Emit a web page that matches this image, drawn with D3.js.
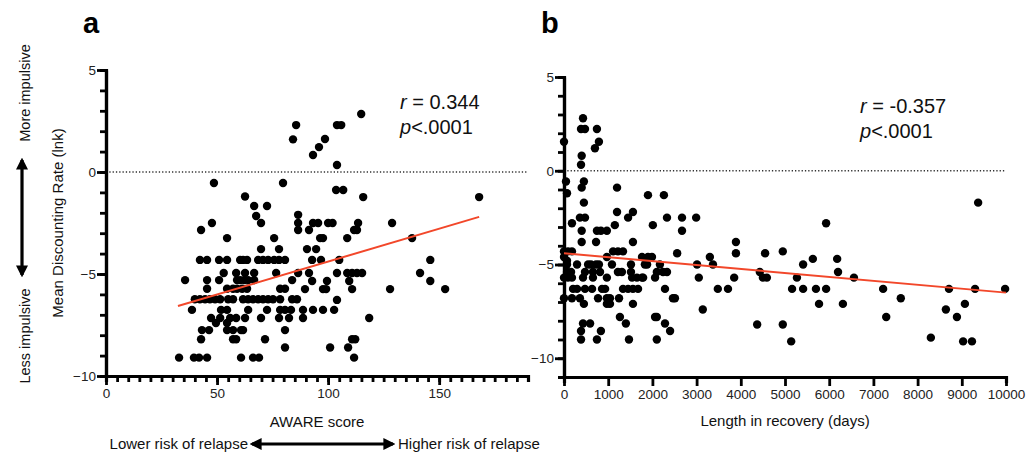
<!DOCTYPE html>
<html>
<head>
<meta charset="utf-8">
<script src="https://cdn.jsdelivr.net/npm/d3@7"></script>
<style>
  body { margin: 0; background: #fff; }
  text { font-family: "Liberation Sans", Arial, Helvetica, sans-serif; }
</style>
</head>
<body>
<div id="chart"></div>
<script>
// panel a: AWARE score vs mean discounting rate
const awareScore = [
  85.6, 84.2, 48.6, 79.7, 62.6, 66.7, 72.5, 67.6, 69.8, 47.7, 42.8, 54.5, 75.7, 69.8, 77.9,
  86.5, 86.5, 86.5,
  42.3, 45.5, 50.9, 54.5, 60.4, 61.7, 63.5, 68.5, 70.7, 73, 75.7, 77.9, 80.6,
  53, 58.6, 62.6, 66.7, 76.6, 86.5,
  35.6, 45.5, 50.9, 59, 60.4, 62.2, 64, 66.7, 83.8,
  45.5, 54.5, 57.2, 59, 61.3, 63.5, 78.4, 80.6,
  40, 42.3, 44.6, 46.8, 49.1, 51.4, 55, 57.2, 61.7, 64, 66.2, 68.5, 70.7, 73, 75.2, 78.4, 83.8, 86,
  38.7, 51.8, 54.5, 64, 72.5, 78.4, 80.6, 83.3,
  47.3, 51.4, 55.9, 58.6, 62.6, 69.8, 77.9, 82.4,
  49.5, 54.5,
  43.2, 46.4, 54.5, 57.2, 60.8, 61.7, 80.6,
  42.8, 57.2, 58.6, 71.6,
  80.6,
  32.9, 39.6, 41.9, 45.5, 60.8, 66.2, 68.9,
  93.2, 95.9, 98.6, 104, 105.9, 114.9, 104, 103.6, 106.8, 115.8, 168,
  93.2, 95.5, 100, 102, 113.5, 113, 111.7, 91.4, 128.8,
  96.4, 97.7, 108.6, 137.8,
  90.5, 94.6,
  92.8, 96.8, 105, 146,
  91.4, 104, 108.6, 110.8, 113, 115.3, 141.4,
  146, 92.8, 99.5, 109.5,
  89.6, 97.7, 99.1, 110.8, 127.9, 152.7,
  104,
  88.7, 93.2, 97.7, 102.7,
  118.5, 88.7,
  100.9, 109, 110.8, 112.2, 111.7
];
const awareRate = [
  2.3, 1.6, -0.54, -0.54, -1.2, -1.67, -1.67, -2.16, -2.5, -2.5, -2.84, -3.24, -3.24, -3.78, -3.78,
  -2.1, -2.5, -2.84,
  -4.31, -4.31, -4.31, -4.31, -4.31, -4.31, -4.31, -4.31, -4.31, -4.31, -4.31, -4.31, -4.31,
  -4.95, -4.95, -4.95, -4.95, -4.95, -4.95,
  -5.3, -5.3, -5.3, -5.3, -5.3, -5.3, -5.3, -5.3, -5.3,
  -5.72, -5.72, -5.72, -5.72, -5.72, -5.72, -5.72, -5.72,
  -6.24, -6.24, -6.24, -6.24, -6.24, -6.24, -6.24, -6.24, -6.24, -6.24, -6.24, -6.24, -6.24, -6.24, -6.24, -6.24, -6.24, -6.24,
  -6.76, -6.76, -6.76, -6.76, -6.76, -6.76, -6.76, -6.76,
  -7.16, -7.16, -7.16, -7.16, -7.16, -7.16, -7.16, -7.16,
  -7.4, -7.4,
  -7.75, -7.75, -7.75, -7.75, -7.75, -7.75, -7.75,
  -8.2, -8.2, -8.2, -8.2,
  -8.6,
  -9.1, -9.1, -9.1, -9.1, -9.1, -9.1, -9.1,
  0.83, 1.22, 1.62, 2.3, 2.3, 2.84, 0.34, -0.88, -0.88, -1.23, -1.23,
  -2.5, -2.5, -2.5, -2.5, -2.5, -2.84, -2.84, -2.84, -2.5,
  -3.24, -3.24, -3.24, -3.24,
  -3.78, -3.78,
  -4.31, -4.31, -4.31, -4.31,
  -4.95, -4.95, -4.95, -4.95, -4.95, -4.95, -4.95,
  -5.34, -5.34, -5.34, -5.34,
  -5.74, -5.74, -5.74, -5.74, -5.74, -5.74,
  -6.27,
  -6.76, -6.76, -6.76, -6.76,
  -7.16, -7.16,
  -8.6, -8.6, -8.2, -8.2, -9.1
];
const awareFitX = [32.4, 168];
const awareFitY = [-6.57, -2.2];

// panel b: length in recovery vs mean discounting rate
const recoveryDays = [
  0, 45, 68, 430, 385, 475, 400, 385, 450, 400, 450, 360, 475, 400, 400, 180, 745, 700, 790,
  745, 835, 725, 970, 1200, 1200, 1150, 1450, 1560, 1560, 1900, 2010, 2260, 2330, 2670, 2670,
  2560, 2990, 3010, 3050, 3300, 3370, 3140, 3480, 3710, 3850, 3890, 3890, 4370, 4430, 4500,
  4590, 4550,
  0, 90, 180, 1110, 1220, 1335, 970, 1765, 1900, 1990, 0, 68,
  68, 295, 545, 610, 725, 790, 1085, 1515, 1830, 1880, 2170,
  68, 160, 475, 655, 815, 1220, 1310, 1515, 2100, 2240, 2330,
  0, 90, 180, 430, 655, 970, 1540, 1650, 1765, 1790, 2060,
  205, 295, 475, 635, 860, 930, 1335, 1450, 1560, 1675, 2285,
  0, 180, 360, 770, 970, 1040, 1245, 2465, 2510,
  450, 970, 1040, 1560,
  1265, 2060, 2100,
  430, 590, 1400, 2285,
  385, 835, 2400,
  385, 745, 1470, 2100,
  9370, 5930, 4950, 5410, 5630, 6180, 6200, 5270, 5160, 5410, 5700, 5930, 5770, 6310, 6560,
  7220, 7290, 7620, 4950, 5140, 8300, 8640, 8710, 8890, 9070, 9030, 9230, 9300, 9980
];
const recoveryRate = [
  1.55, -0.57, -1.2, 2.8, 2.23, 2.23, 0.8, 0.32, -0.57, -0.9, -1.7, -2.5, -2.5, -3.2, -3.8, -2.8, 2.23, 1.2, 1.55,
  -3.2, -3.2, -3.8, -3.2, -0.9, -2.2, -2.9, -2.5, -2.2, -3.8, -1.3, -2.9, -1.3, -2.5, -2.5, -3.2,
  -4.4, -2.5, -5, -5.7, -4.6, -5, -7.4, -6.3, -6.3, -5.7, -3.8, -4.4, -8.2, -5.4, -5.7,
  -5.7, -4.4,
  -4.3, -4.3, -4.3, -4.3, -4.3, -4.3, -4.6, -4.6, -4.6, -4.6, -4.6, -4.8,
  -5, -5, -5, -5, -5, -5, -5, -5, -5, -5, -5,
  -5.4, -5.4, -5.4, -5.4, -5.4, -5.4, -5.4, -5.4, -5.4, -5.4, -5.4,
  -5.7, -5.7, -5.7, -5.7, -5.7, -5.7, -5.7, -5.7, -5.7, -5.7, -5.7,
  -6.3, -6.3, -6.3, -6.3, -6.3, -6.3, -6.3, -6.3, -6.3, -6.3, -6.3,
  -6.8, -6.8, -6.8, -6.8, -6.8, -6.8, -6.8, -6.8, -6.8,
  -7.1, -7.1, -7.1, -7.1,
  -7.8, -7.8, -7.8,
  -8.15, -8.15, -8.15, -8.15,
  -8.55, -8.55, -8.55,
  -9, -9, -9, -9,
  -1.7, -2.8, -4.3, -5, -4.7, -4.7, -5.4, -5.7, -6.3, -6.3, -6.3, -6.3, -7.1, -7.1, -5.7,
  -6.3, -7.8, -6.8, -8.2, -9.1, -8.9, -7.4, -6.3, -7.8, -7.1, -9.1, -9.1, -6.3, -6.3
];
const recoveryFitX = [0, 10000];
const recoveryFitY = [-4.4, -6.5];

const awareTicks = [0, 50, 100, 150];
const recoveryTicks = [0, 1000, 2000, 3000, 4000, 5000, 6000, 7000, 8000, 9000, 10000];
const rateTicks = [5, 0, -5, -10];

const W = 1031, H = 460;
const svg = d3.select("#chart").append("svg")
    .attr("width", W)
    .attr("height", H);

function styleAxis(sel) {
    sel.select(".domain").attr("stroke", "#000").attr("stroke-width", 3.2);
    sel.selectAll(".tick line").attr("stroke", "#000").attr("stroke-width", 2.8);
    sel.selectAll(".tick text")
        .style("font-size", "13.5px")
        .style("font-family", "'Liberation Sans', Arial, sans-serif")
        .attr("fill", "#222");
}

function drawPanel(p) {
    const g = svg.append("g");

    // zero reference line
    g.append("line")
        .attr("x1", p.x.range()[0]).attr("x2", p.x.range()[1])
        .attr("y1", p.y(0)).attr("y2", p.y(0))
        .attr("stroke", "#333")
        .attr("stroke-width", 1.3)
        .attr("stroke-dasharray", "1.3,2");

    // minor ticks
    g.append("g")
        .attr("transform", "translate(0," + p.y.range()[0] + ")")
        .call(d3.axisBottom(p.x).tickValues(p.xMinor).tickSize(6).tickFormat(""))
        .call(styleAxis);
    g.append("g")
        .attr("transform", "translate(" + p.x.range()[0] + ",0)")
        .call(d3.axisLeft(p.y).tickValues(p.yMinor).tickSize(6).tickFormat(""))
        .call(styleAxis);

    // major ticks and labels
    g.append("g")
        .attr("transform", "translate(0," + p.y.range()[0] + ")")
        .call(d3.axisBottom(p.x).tickValues(p.xTicks).tickSize(9).tickSizeOuter(0)
            .tickPadding(3).tickFormat(d3.format("d")))
        .call(styleAxis);
    g.append("g")
        .attr("transform", "translate(" + p.x.range()[0] + ",0)")
        .call(d3.axisLeft(p.y).tickValues(rateTicks).tickSize(9).tickSizeOuter(0)
            .tickPadding(1).tickFormat(d3.format("d")))
        .call(styleAxis);

    g.append("g")
        .selectAll("circle")
        .data(p.xs)
        .enter()
        .append("circle")
        .attr("cx", (d) => p.x(d))
        .attr("cy", (d, i) => p.y(p.ys[i]))
        .attr("r", 4.2)
        .attr("fill", "#000");

    g.append("line")
        .attr("x1", p.x(p.fitX[0])).attr("y1", p.y(p.fitY[0]))
        .attr("x2", p.x(p.fitX[1])).attr("y2", p.y(p.fitY[1]))
        .attr("stroke", "#f2472a")
        .attr("stroke-width", 2);

    g.append("text")
        .attr("x", p.x.range()[0] - 23).attr("y", 33)
        .style("font-size", "29px").style("font-weight", "bold")
        .text(p.letter);

    const st = g.append("g").style("font-size", "20px").attr("fill", "#111");
    const r = st.append("text").attr("x", p.statX).attr("y", p.statY);
    r.append("tspan").style("font-style", "italic").text("r");
    r.append("tspan").text(" = " + p.r);
    const pv = st.append("text").attr("x", p.statX).attr("y", p.statY + 25);
    pv.append("tspan").style("font-style", "italic").text("p");
    pv.append("tspan").text("<.0001");

    g.append("text")
        .attr("x", p.titleX)
        .attr("y", p.titleY)
        .attr("text-anchor", "middle")
        .style("font-size", "15px")
        .attr("fill", "#111")
        .text(p.title);
}

const xA = d3.scaleLinear().domain([0, 190]).range([106, 528]);
const yA = d3.scaleLinear().domain([-10, 5]).range([376, 70]);
const xB = d3.scaleLinear().domain([0, 10000]).range([564, 1006]);
const yB = d3.scaleLinear().domain([-11, 5]).range([377, 77]);

drawPanel({
    x: xA, y: yA, xs: awareScore, ys: awareRate,
    xTicks: awareTicks, xMinor: d3.range(0, 191, 5), yMinor: d3.range(-10, 6, 1),
    fitX: awareFitX, fitY: awareFitY,
    letter: "a", r: "0.344", statX: 400, statY: 109,
    title: "AWARE score", titleX: 317, titleY: 427
});
drawPanel({
    x: xB, y: yB, xs: recoveryDays, ys: recoveryRate,
    xTicks: recoveryTicks, xMinor: [], yMinor: d3.range(-11, 6, 1),
    fitX: recoveryFitX, fitY: recoveryFitY,
    letter: "b", r: "-0.357", statX: 860, statY: 113,
    title: "Length in recovery (days)", titleX: 785, titleY: 426
});

// y-axis title for panel a
svg.append("text")
    .attr("transform", "translate(63,223) rotate(-90)")
    .attr("text-anchor", "middle")
    .style("font-size", "15px")
    .attr("fill", "#111")
    .text("Mean Discounting Rate (lnk)");

// arrows
const defs = svg.append("defs");
defs.append("marker")
    .attr("id", "head")
    .attr("viewBox", "0 0 10 10")
    .attr("refX", 8).attr("refY", 5)
    .attr("markerUnits", "userSpaceOnUse")
    .attr("markerWidth", 12).attr("markerHeight", 12)
    .attr("orient", "auto-start-reverse")
    .append("path").attr("d", "M0,0L10,5L0,10z").attr("fill", "#000");

svg.append("line")
    .attr("x1", 22).attr("y1", 160).attr("x2", 22).attr("y2", 275)
    .attr("stroke", "#000").attr("stroke-width", 3.2)
    .attr("marker-start", "url(#head)").attr("marker-end", "url(#head)");

svg.append("text")
    .attr("transform", "translate(30,93) rotate(-90)")
    .attr("text-anchor", "middle")
    .style("font-size", "14.5px").attr("fill", "#111")
    .text("More impulsive");
svg.append("text")
    .attr("transform", "translate(30,336) rotate(-90)")
    .attr("text-anchor", "middle")
    .style("font-size", "14.5px").attr("fill", "#111")
    .text("Less impulsive");

svg.append("line")
    .attr("x1", 252).attr("y1", 444).attr("x2", 393).attr("y2", 444)
    .attr("stroke", "#000").attr("stroke-width", 3.2)
    .attr("marker-start", "url(#head)").attr("marker-end", "url(#head)");

svg.append("text")
    .attr("x", 248).attr("y", 449)
    .attr("text-anchor", "end")
    .style("font-size", "15px").attr("fill", "#111")
    .text("Lower risk of relapse");
svg.append("text")
    .attr("x", 398).attr("y", 449)
    .style("font-size", "15px").attr("fill", "#111")
    .text("Higher risk of relapse");
</script>
</body>
</html>
